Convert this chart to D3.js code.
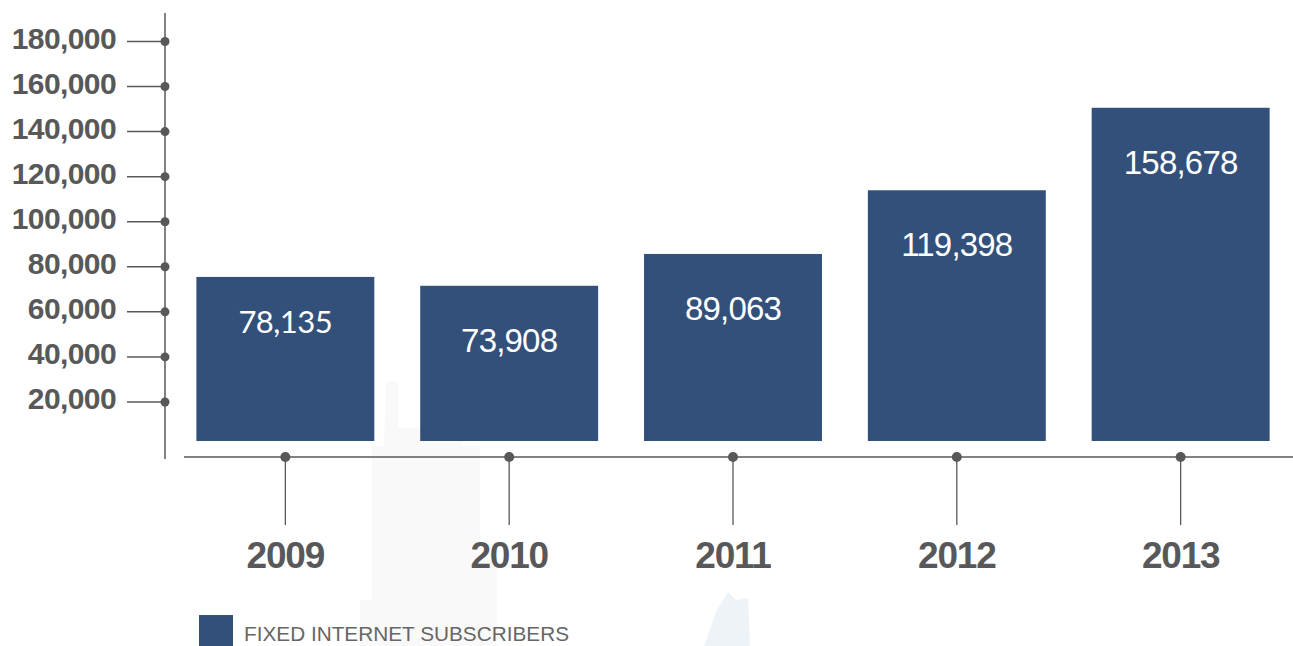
<!DOCTYPE html>
<html>
<head>
<meta charset="utf-8">
<script src="https://cdn.jsdelivr.net/npm/d3@7/dist/d3.min.js"></script>
<style>
  html, body { margin: 0; padding: 0; background: #ffffff; }
  svg { display: block; }
  text { font-family: "Liberation Sans", Arial, Helvetica, sans-serif; }
</style>
</head>
<body>
<svg id="chart" width="1293" height="646"></svg>
<script>
// Fixed internet subscribers per year
const years = ["2009", "2010", "2011", "2012", "2013"];
const subscribers = [78135, 73908, 89063, 119398, 158678];
const valueLabels = ["78,135", "73,908", "89,063", "119,398", "158,678"];
const tickValues = [20000, 40000, 60000, 80000, 100000, 120000, 140000, 160000, 180000];
const legendLabel = "FIXED INTERNET SUBSCRIBERS";

const W = 1293, H = 646;
const ink = "#58585a";
const barColor = "#33507a";

const svg = d3.select("#chart");

// faint background artwork behind the chart
const art = svg.append("g");
art.append("path")
  .attr("d", "M386,382 L398,382 L398,428 L462,428 L462,446 L480,446 L480,560 L497,560 L497,646 L360,646 L360,600 L372,600 L372,446 L384,446 Z")
  .attr("fill", "#f9f9f9");
art.append("path")
  .attr("d", "M704,646 L716,612 L728,592 L736,600 L748,598 L750,646 Z")
  .attr("fill", "#eef3f8");

// scales
const x = d3.scaleBand().domain(years).range([174, 1292]).paddingInner(0.205).paddingOuter(0.1);
const yAxisScale = d3.scaleLinear().domain([0, 180000]).range([447, 41.5]);
const yBar = d3.scaleLinear().domain([0, 180000]).range([441, 63]);

// vertical value axis
const axisX = 165;
svg.append("line")
  .attr("x1", axisX).attr("x2", axisX)
  .attr("y1", 13).attr("y2", 459)
  .attr("stroke", ink).attr("stroke-width", 1.5);

const yTicks = svg.append("g").selectAll("g").data(tickValues).join("g")
  .attr("transform", d => `translate(0,${yAxisScale(d)})`);
yTicks.append("line")
  .attr("x1", 127).attr("x2", axisX)
  .attr("stroke", ink).attr("stroke-width", 1.5);
yTicks.append("circle")
  .attr("cx", axisX).attr("r", 4.5).attr("fill", ink);
yTicks.append("text")
  .attr("x", 116).attr("y", 7)
  .attr("text-anchor", "end")
  .attr("font-size", 30).attr("font-weight", "bold")
  .attr("letter-spacing", -0.6)
  .attr("fill", ink)
  .text(d => d3.format(",")(d));

// bars
const bars = svg.append("g").selectAll("g").data(years).join("g");
bars.append("rect")
  .attr("x", d => x(d))
  .attr("width", x.bandwidth())
  .attr("y", (d, i) => yBar(subscribers[i]))
  .attr("height", (d, i) => yBar(0) - yBar(subscribers[i]))
  .attr("fill", barColor);
bars.append("text")
  .attr("x", d => x(d) + x.bandwidth() / 2)
  .attr("y", (d, i) => yBar(subscribers[i]) + (i === 0 ? 56 : 66))
  .attr("text-anchor", "middle")
  .attr("fill", "#ffffff")
  .attr("font-size", (d, i) => i === 0 ? 31 : 33)
  .attr("letter-spacing", (d, i) => i === 0 ? -0.5 : -0.8)
  .style("font-family", (d, i) => i === 0 ? "Lato, 'Open Sans', sans-serif" : null)
  .text((d, i) => valueLabels[i]);

// horizontal category axis
const baseY = 457;
svg.append("line")
  .attr("x1", 184).attr("x2", W)
  .attr("y1", baseY).attr("y2", baseY)
  .attr("stroke", ink).attr("stroke-width", 1.5);

const xTicks = svg.append("g").selectAll("g").data(years).join("g")
  .attr("transform", d => `translate(${x(d) + x.bandwidth() / 2},0)`);
xTicks.append("line")
  .attr("y1", baseY).attr("y2", 525)
  .attr("stroke", ink).attr("stroke-width", 1.3);
xTicks.append("circle")
  .attr("cy", baseY).attr("r", 5).attr("fill", ink);
xTicks.append("text")
  .attr("y", 568)
  .attr("text-anchor", "middle")
  .attr("font-size", 37).attr("font-weight", "bold")
  .attr("letter-spacing", -1.2)
  .attr("fill", ink)
  .text(d => d);

// legend
const legend = svg.append("g");
legend.append("rect")
  .attr("x", 199).attr("y", 615).attr("width", 34).attr("height", 34)
  .attr("fill", barColor);
legend.append("text")
  .attr("x", 244).attr("y", 641)
  .attr("font-size", 21)
  .attr("textLength", 325).attr("lengthAdjust", "spacingAndGlyphs")
  .attr("fill", "#666666")
  .text(legendLabel);
</script>
</body>
</html>
